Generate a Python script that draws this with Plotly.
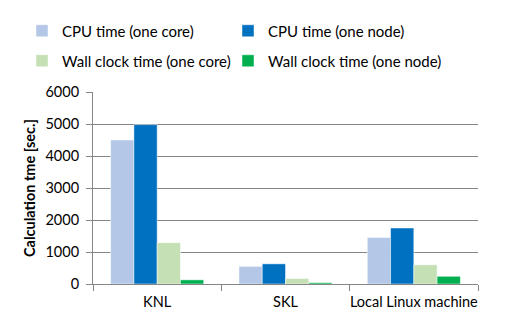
import plotly.graph_objects as go

categories = ["KNL", "SKL", "Local Linux machine"]
cpu_one_core = [4500, 550, 1450]
cpu_one_node = [4980, 630, 1750]
wall_one_core = [1290, 170, 600]
wall_one_node = [130, 40, 240]

series_names = ["CPU time (one core)", "CPU time (one node)",
                "Wall clock time (one core)", "Wall clock time (one node)"]
series_values = [cpu_one_core, cpu_one_node, wall_one_core, wall_one_node]
colors = ["#B4C7E7", "#0070C0", "#C5E0B4", "#00B050"]
legend_ids = ["legend", "legend2", "legend3", "legend4"]

FONT = "Lato"
fig = go.Figure()
for name, vals, col, lg in zip(series_names, series_values, colors, legend_ids):
    fig.add_trace(go.Bar(x=categories, y=vals, name=name, legend=lg,
                         marker=dict(color=col, line=dict(color="rgba(255,255,255,0.6)", width=0.8))))

W, H = 507, 323
l, r, t, b = 93, 29, 92, 39
pw, ph = W - l - r, H - t - b

def px_x(x):
    return (x - l) / pw

def px_y(y):
    return (H - b - y) / ph

legend_pos = [(22, 31), (228, 31), (22, 61), (228, 61)]
layout_legends = {}
for lg, (lx, ly) in zip(legend_ids, legend_pos):
    layout_legends[lg] = dict(x=px_x(lx), y=px_y(ly), xanchor="left", yanchor="middle",
                              orientation="h", bgcolor="rgba(0,0,0,0)",
                              font=dict(family=FONT, size=15, color="#000000"),
                              itemwidth=30)

fig.update_layout(
    width=W, height=H,
    margin=dict(l=l, r=r, t=t, b=b, autoexpand=False),
    paper_bgcolor="white", plot_bgcolor="white",
    barmode="group", bargap=0.275, bargroupgap=0,
    font=dict(family=FONT, size=14.5, color="#000000"),
    showlegend=True,
    **layout_legends,
)
fig.update_xaxes(
    type="category", tickson="boundaries", ticks="outside", ticklen=6,
    tickcolor="#868686", showline=True, linecolor="#868686", linewidth=1,
    showgrid=False, tickangle=0, automargin=False, ticklabelstandoff=5,
    tickfont=dict(family=FONT, size=14.5, color="#000000"),
)
fig.update_yaxes(
    range=[0, 6000], dtick=1000, ticks="outside", ticklen=6, tickcolor="#868686",
    showline=True, linecolor="#868686", linewidth=1, ticklabelstandoff=4,
    showgrid=True, gridcolor="#868686", gridwidth=1, automargin=False,
    tickfont=dict(family=FONT, size=14.5, color="#000000"),
    title=dict(text="<b>Calculation tme [sec.]</b>", font=dict(family=FONT, size=14.5, color="#000000"), standoff=6),
    zeroline=False,
)

fig.write_html("out.html")
